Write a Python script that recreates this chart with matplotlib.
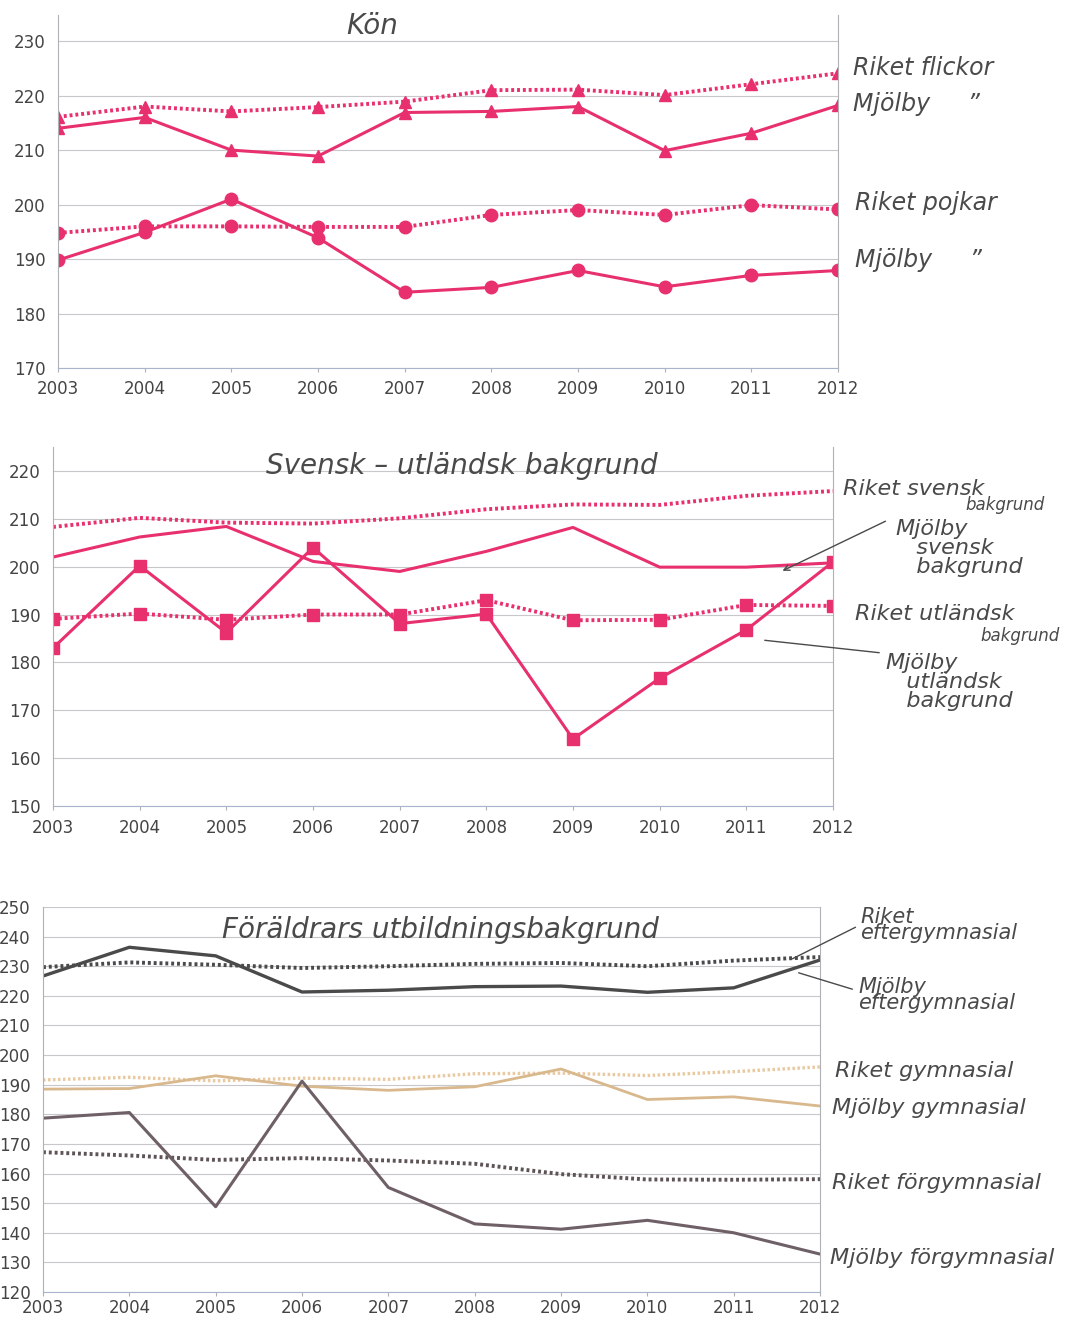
import matplotlib.pyplot as plt

years = [2003, 2004, 2005, 2006, 2007, 2008, 2009, 2010, 2011, 2012]

# Panel 1: Kön
riket_flickor = [216.1, 218.0, 217.1, 217.9, 218.9, 221.0, 221.1, 220.1, 222.1, 224.1]
mjolby_flickor = [214.0, 216.0, 210.0, 208.9, 216.9, 217.1, 218.0, 209.9, 213.1, 218.2]
riket_pojkar = [194.8, 196.0, 196.0, 195.9, 195.9, 198.1, 199.0, 198.1, 199.9, 199.1]
mjolby_pojkar = [189.8, 194.9, 201.0, 193.9, 183.9, 184.8, 187.9, 184.9, 187.0, 187.9]

# Panel 2: Svensk - utländsk bakgrund
riket_svensk = [208.3, 210.2, 209.2, 209.0, 210.1, 212.0, 213.0, 212.9, 214.8, 215.8]
mjolby_svensk = [202.0, 206.2, 208.4, 201.1, 199.0, 203.2, 208.2, 199.9, 199.9, 200.8]
riket_utl = [189.1, 190.2, 188.9, 190.0, 190.0, 193.0, 188.8, 188.9, 192.0, 191.8]
mjolby_utl = [183.0, 200.2, 186.2, 204.0, 188.1, 190.1, 164.0, 176.7, 186.8, 201.0]

# Panel 3: Föräldrars utbildningsbakgrund
riket_efter = [229.7, 231.3, 230.5, 229.4, 230.0, 230.8, 231.1, 230.0, 231.9, 233.1]
mjolby_efter = [226.7, 236.4, 233.5, 221.3, 221.9, 223.1, 223.3, 221.2, 222.7, 232.1]
riket_gymn = [191.6, 192.5, 191.3, 192.2, 191.8, 193.7, 193.9, 193.1, 194.4, 196.0]
mjolby_gymn = [188.5, 188.7, 193.0, 189.5, 188.1, 189.3, 195.3, 185.0, 185.9, 182.8]
riket_forgymn = [167.2, 166.1, 164.6, 165.2, 164.4, 163.3, 159.8, 158.0, 157.9, 158.1]
mjolby_forgymn = [178.7, 180.6, 148.8, 191.2, 155.3, 143.0, 141.2, 144.2, 140.0, 132.8]

PINK = '#e8306f'
DOT = (0, (0.75, 0.75))
HAND = dict(style='italic', color='#4a4a4a', family='DejaVu Sans')

W, H = 1074, 1321
fig = plt.figure(figsize=(W / 100, H / 100), dpi=100)


def make_axes(x0, x1, ytop, ybot, ylim, yticks, xpad=6):
    ax = fig.add_axes([x0 / W, 1 - ybot / H, (x1 - x0) / W, (ybot - ytop) / H])
    ax.set_xlim(2003, 2012)
    ax.set_ylim(*ylim)
    ax.set_yticks(yticks)
    ax.set_xticks(years)
    ax.grid(axis='y', color='#c8c8cc', linewidth=0.8)
    ax.set_axisbelow(True)
    for s in ['left', 'right']:
        ax.spines[s].set_color('#b0b0b8')
        ax.spines[s].set_linewidth(0.8)
    ax.spines['top'].set_visible(False)
    ax.spines['bottom'].set_color('#aab4cc')
    ax.tick_params(axis='y', length=0, pad=9, labelsize=12, labelcolor='#444444')
    ax.tick_params(axis='x', length=3, color='#b0b0b8', pad=xpad, labelsize=12, labelcolor='#444444')
    return ax


# ---- Panel 1 ----
ax1 = make_axes(58, 838, 15, 368, (170, 234.8), range(170, 231, 10))
ax1.plot(years, riket_flickor, linestyle=DOT, color=PINK, linewidth=2.8, marker='^', markersize=9)
ax1.plot(years, mjolby_flickor, color=PINK, linewidth=2.2, marker='^', markersize=9)
ax1.plot(years, riket_pojkar, linestyle=DOT, color=PINK, linewidth=2.8, marker='o', markersize=9)
ax1.plot(years, mjolby_pojkar, color=PINK, linewidth=2.2, marker='o', markersize=9)

fig.text(372 / W, 1 - 26 / H, 'Kön', fontsize=20, ha='center', va='center', **HAND)
fig.text(853 / W, 1 - 68 / H, 'Riket flickor', fontsize=17, va='center', **HAND)
fig.text(853 / W, 1 - 104 / H, 'Mjölby     \u201d', fontsize=17, va='center', **HAND)
fig.text(855 / W, 1 - 203 / H, 'Riket pojkar', fontsize=17, va='center', **HAND)
fig.text(855 / W, 1 - 260 / H, 'Mjölby     \u201d', fontsize=17, va='center', **HAND)

# ---- Panel 2 ----
ax2 = make_axes(53, 833, 447, 806, (150, 225), range(150, 221, 10))
ax2.plot(years, riket_svensk, linestyle=DOT, color=PINK, linewidth=2.8)
ax2.plot(years, mjolby_svensk, color=PINK, linewidth=2.2)
ax2.plot(years, riket_utl, linestyle=DOT, color=PINK, linewidth=2.8, marker='s', markersize=9)
ax2.plot(years, mjolby_utl, color=PINK, linewidth=2.2, marker='s', markersize=9)

fig.text(462 / W, 1 - 466 / H, 'Svensk – utländsk bakgrund', fontsize=20, ha='center', va='center', **HAND)
fig.text(843 / W, 1 - 489 / H, 'Riket svensk', fontsize=16, va='center', **HAND)
fig.text(965 / W, 1 - 505 / H, 'bakgrund', fontsize=12, va='center', **HAND)
fig.text(895 / W, 1 - 548 / H, 'Mjölby\n   svensk\n   bakgrund', fontsize=16, va='center',
         linespacing=0.95, **HAND)
fig.text(855 / W, 1 - 614 / H, 'Riket utländsk', fontsize=16, va='center', **HAND)
fig.text(980 / W, 1 - 636 / H, 'bakgrund', fontsize=12, va='center', **HAND)
fig.text(885 / W, 1 - 682 / H, 'Mjölby\n   utländsk\n   bakgrund', fontsize=16, va='center',
         linespacing=0.95, **HAND)
ax2.annotate('', xy=(780 / W, 1 - 572 / H), xytext=(888 / W, 1 - 520 / H),
             xycoords='figure fraction', textcoords='figure fraction',
             arrowprops=dict(arrowstyle='->', color='#4a4a4a', linewidth=1))
ax2.annotate('', xy=(762 / W, 1 - 640 / H), xytext=(882 / W, 1 - 653 / H),
             xycoords='figure fraction', textcoords='figure fraction',
             arrowprops=dict(arrowstyle='-', color='#4a4a4a', linewidth=1))

# ---- Panel 3 ----
ax3 = make_axes(43, 820, 907, 1292, (120, 250), range(120, 251, 10), xpad=2)
ax3.plot(years, riket_efter, linestyle=DOT, color='#4a4a4a', linewidth=2.8)
ax3.plot(years, mjolby_efter, color='#4a4a4a', linewidth=2.4)
ax3.plot(years, riket_gymn, linestyle=DOT, color='#e8c9a0', linewidth=2.4)
ax3.plot(years, mjolby_gymn, color='#d8b88c', linewidth=2)
ax3.plot(years, riket_forgymn, linestyle=DOT, color='#5e5456', linewidth=2.8)
ax3.plot(years, mjolby_forgymn, color='#6e6066', linewidth=2.2)

fig.text(440 / W, 1 - 930 / H, 'Föräldrars utbildningsbakgrund', fontsize=20, ha='center', va='center', **HAND)
fig.text(860 / W, 1 - 925 / H, 'Riket\neftergymnasial', fontsize=15, va='center', linespacing=0.8, **HAND)
fig.text(858 / W, 1 - 995 / H, 'Mjölby\neftergymnasial', fontsize=15, va='center', linespacing=0.8, **HAND)
fig.text(835 / W, 1 - 1071 / H, 'Riket gymnasial', fontsize=16, va='center', **HAND)
fig.text(832 / W, 1 - 1108 / H, 'Mjölby gymnasial', fontsize=16, va='center', **HAND)
fig.text(832 / W, 1 - 1183 / H, 'Riket förgymnasial', fontsize=16, va='center', **HAND)
fig.text(830 / W, 1 - 1258 / H, 'Mjölby förgymnasial', fontsize=16, va='center', **HAND)
ax3.annotate('', xy=(790 / W, 1 - 960 / H), xytext=(858 / W, 1 - 926 / H),
             xycoords='figure fraction', textcoords='figure fraction',
             arrowprops=dict(arrowstyle='-', color='#4a4a4a', linewidth=1))
ax3.annotate('', xy=(796 / W, 1 - 972 / H), xytext=(855 / W, 1 - 990 / H),
             xycoords='figure fraction', textcoords='figure fraction',
             arrowprops=dict(arrowstyle='-', color='#4a4a4a', linewidth=1))

fig.savefig('out.png', dpi=100)
